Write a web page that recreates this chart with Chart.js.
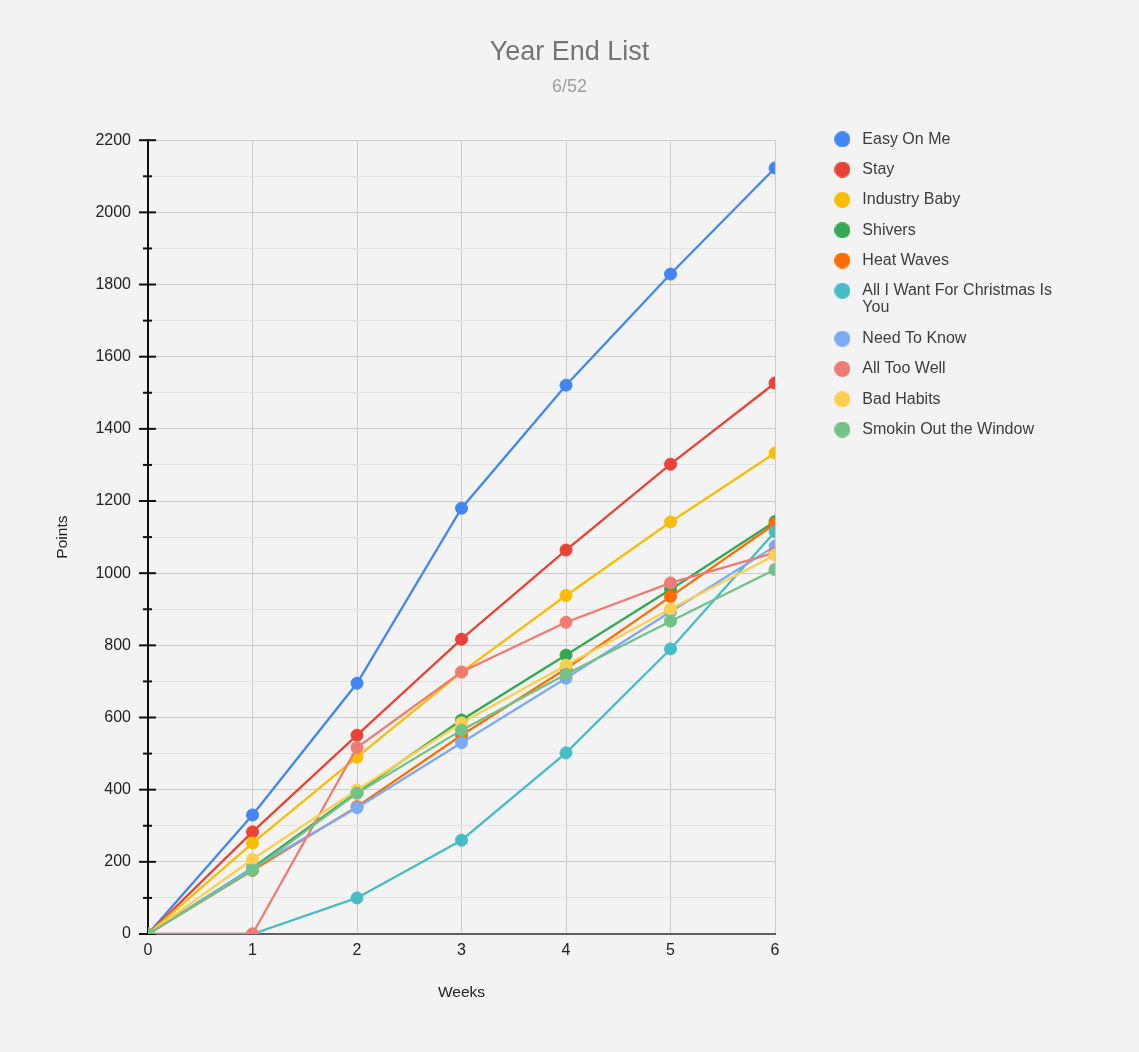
<!DOCTYPE html>
<html>
<head>
<meta charset="utf-8">
<script src="https://cdn.jsdelivr.net/npm/chart.js@4.4.1/dist/chart.umd.min.js"></script>
<style>
  html, body { margin: 0; padding: 0; background: #f3f3f3; }
  #wrap { width: 1139px; height: 1052px; }
</style>
</head>
<body>
<div id="wrap"><canvas id="c" width="1139" height="1052"></canvas></div>
<script>
// ---- data ----
const weeks = ['0', '1', '2', '3', '4', '5', '6'];
const seriesNames = ['Easy On Me', 'Stay', 'Industry Baby', 'Shivers', 'Heat Waves',
  'All I Want For Christmas Is You', 'Need To Know', 'All Too Well', 'Bad Habits', 'Smokin Out the Window'];
const easyOnMe     = [0, 330, 695, 1180, 1521, 1829, 2123];
const stay         = [0, 283, 551, 817, 1064, 1302, 1527];
const industryBaby = [0, 252, 490, 726, 938, 1142, 1333];
const shivers      = [0, 183, 393, 593, 773, 955, 1143];
const heatWaves    = [0, 176, 353, 551, 735, 935, 1137];
const allIWant     = [0, 0, 100, 260, 502, 790, 1115];
const needToKnow   = [0, 182, 350, 530, 709, 893, 1075];
const allTooWell   = [0, 0, 517, 726, 864, 973, 1057];
const badHabits    = [0, 207, 399, 585, 745, 901, 1050];
const smokin       = [0, 177, 390, 565, 720, 867, 1010];
const seriesValues = [easyOnMe, stay, industryBaby, shivers, heatWaves, allIWant, needToKnow, allTooWell, badHabits, smokin];
const colors = ['#4285F4', '#EA4335', '#FBBC04', '#34A853', '#FF6D01', '#46BDC6', '#7BAAF7', '#F07B72', '#FCD04F', '#71C287'];
const yMin = 0, yMax = 2200, yStep = 100, yLabelStep = 200;

const FONT = "'Liberation Sans', Arial, sans-serif";

function circleImage(color) {
  const c = document.createElement('canvas');
  c.width = 16; c.height = 16;
  const g = c.getContext('2d');
  g.fillStyle = color;
  g.beginPath(); g.arc(8, 8, 8, 0, Math.PI * 2); g.fill();
  return c;
}
const circles = colors.map(circleImage);

function wrapText(text, maxW) {
  const m = document.createElement('canvas').getContext('2d');
  m.font = '16px ' + FONT;
  const words = text.split(' ');
  const lines = [];
  let cur = '';
  for (const w of words) {
    const t = cur ? cur + ' ' + w : w;
    if (cur && m.measureText(t).width > maxW) { lines.push(cur); cur = w; } else { cur = t; }
  }
  if (cur) lines.push(cur);
  return lines.length > 1 ? lines : text;
}

const datasets = seriesNames.map((name, i) => ({
  label: name,
  data: seriesValues[i],
  borderColor: colors[i],
  backgroundColor: colors[i],
  pointBackgroundColor: colors[i],
  pointBorderColor: colors[i],
  pointBorderWidth: 1,
  pointRadius: 6,
  pointHoverRadius: 6,
  borderWidth: 2.3,
  tension: 0,
  clip: 0,
  order: -i
}));

const axisTicks = {
  id: 'axisTicks',
  beforeDatasetsDraw(chart) {
    const s = chart.scales.y, ctx = chart.ctx, x0 = chart.chartArea.left;
    ctx.save();
    ctx.strokeStyle = '#111';
    ctx.lineWidth = 2;
    s.ticks.forEach(t => {
      const y = s.getPixelForValue(t.value);
      const major = t.value % yLabelStep === 0;
      ctx.beginPath();
      ctx.moveTo(x0 - (major ? 9 : 5), y);
      ctx.lineTo(x0 + (major ? 8 : 4), y);
      ctx.stroke();
    });
    ctx.restore();
  }
};

const hiddenAxis = (w, weight) => ({
  type: 'linear', position: 'right', display: true, weight,
  grid: { display: false, drawTicks: false },
  border: { display: false },
  ticks: { display: false },
  afterFit(s) { s.width = w; }
});

new Chart(document.getElementById('c'), {
  type: 'line',
  data: { labels: weeks, datasets },
  plugins: [axisTicks],
  options: {
    responsive: false,
    animation: false,
    layout: { padding: 0 },
    plugins: {
      title: {
        display: true, text: 'Year End List', color: '#757575',
        font: { family: FONT, size: 27, weight: 'normal', lineHeight: 1.2 },
        padding: { top: 36, bottom: 0 }
      },
      subtitle: {
        display: true, text: '6/52', color: '#9e9e9e',
        font: { family: FONT, size: 18, weight: 'normal', lineHeight: 1.2 },
        padding: { top: 8, bottom: 42.2 }
      },
      legend: {
        position: 'right', align: 'start', maxWidth: 600,
        title: { display: true, text: ' ', font: { size: 10, lineHeight: 1 }, padding: { top: 0, bottom: 107 } },
        labels: {
          usePointStyle: true, pointStyleWidth: 24, padding: 14.3, color: '#3c3c3c',
          font: { family: FONT, size: 16, lineHeight: 1.05 },
          sort: (a, b) => a.datasetIndex - b.datasetIndex,
          generateLabels(chart) {
            const items = Chart.defaults.plugins.legend.labels.generateLabels(chart);
            return items.map(it => Object.assign(it, {
              pointStyle: circles[it.datasetIndex],
              text: wrapText(seriesNames[it.datasetIndex], 200)
            }));
          }
        }
      },
      tooltip: { enabled: false }
    },
    scales: {
      x: {
        type: 'category', offset: false,
        grid: { color: '#cccccc', lineWidth: 1, drawTicks: false },
        border: { color: '#5f5f5f', width: 2 },
        ticks: { color: '#222', font: { family: FONT, size: 16 }, padding: 7, maxRotation: 0 },
        title: { display: true, text: 'Weeks', color: '#222', font: { family: FONT, size: 15.5, lineHeight: 1.2 }, padding: { top: 4, bottom: 49.7 } },
        afterFit(s) { s.height = 118; }
      },
      y: {
        type: 'linear', min: yMin, max: yMax,
        grid: {
          drawTicks: false, lineWidth: 1,
          color: ctx => (ctx.tick && ctx.tick.value % yLabelStep === 0) ? '#cccccc' : '#e3e3e3'
        },
        border: { color: '#111', width: 2 },
        ticks: {
          stepSize: yStep, autoSkip: false, color: '#222', padding: 17,
          font: { family: FONT, size: 16 },
          callback: v => (v % yLabelStep === 0 ? String(v) : '')
        },
        title: { display: true, text: 'Points', color: '#222', font: { family: FONT, size: 15.5, lineHeight: 1.2 }, padding: { top: 53, bottom: 4 } },
        afterFit(s) { s.width = 148; }
      },
      gap: hiddenAxis(41, 0),
      rpad: hiddenAxis(77, 2000)
    }
  }
});
</script>
</body>
</html>
